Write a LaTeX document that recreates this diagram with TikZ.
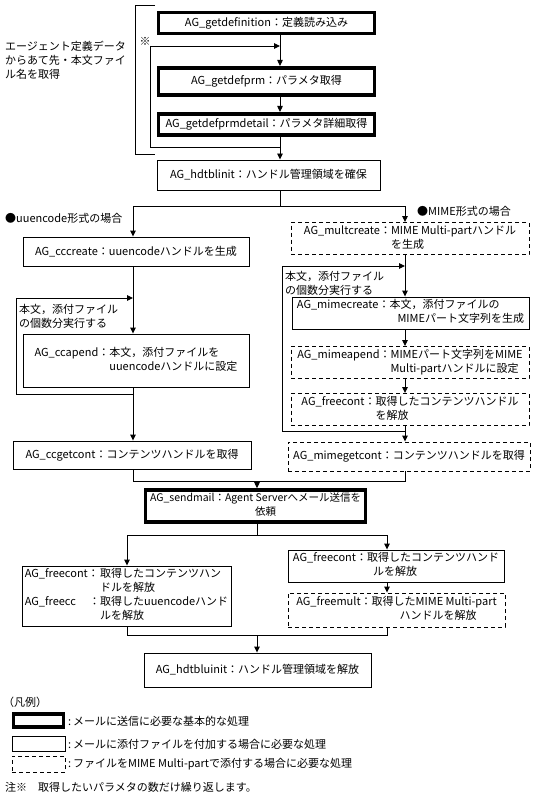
\documentclass[tikz,border=0pt]{standalone}
\usepackage{fontspec}
\setmainfont{Noto Sans CJK JP}
\usetikzlibrary{arrows.meta}
\newcommand\myfs{\fontsize{11}{14}\selectfont}
\newcommand\mysmfs{\fontsize{10.5}{14}\selectfont}
\begin{document}
\begin{tikzpicture}[x=1pt,y=-1pt,
  box/.style={draw, line width=0.9pt, inner sep=2pt, font=\myfs},
  thickbox/.style={box, line width=3.6pt},
  dashbox/.style={box, dash pattern=on 4pt off 3pt},
  arr/.style={-{Triangle[length=6pt,width=5.5pt]}, line width=0.9pt},
  ln/.style={line width=0.9pt},
  lbl/.style={anchor=west, inner sep=0pt, font=\myfs, align=left}]
\useasboundingbox (0,0) rectangle (548,805);

% ---- top section
\node[thickbox, minimum width=216pt, minimum height=21pt] (getdef) at (266.5,23) {AG\_getdefinition：定義読み込み};
\node[thickbox, minimum width=216pt, minimum height=27.5pt] (getprm) at (266.5,81.5) {AG\_getdefprm：パラメタ取得};
\node[thickbox, minimum width=216pt, minimum height=21.5pt] (getdet) at (266.5,124.5) {AG\_getdefprmdetail：パラメタ詳細取得};
\node[box, minimum width=223pt, minimum height=30pt] (hinit) at (268.5,175) {AG\_hdtblinit：ハンドル管理領域を確保};

\coordinate (t1) at (280,0);
\draw[arr] (getdef.south -| t1) -- (getprm.north -| t1);
\draw[arr] (getprm.south -| t1) -- (getdet.north -| t1);
\draw[arr] (getdet.south -| t1) -- (hinit.north -| t1);

\coordinate (la) at (150,46);
\coordinate (lb) at (150,147);
\draw[arr] (la) -- (la -| t1);
\draw[ln] (la) -- (lb) -- (lb -| t1);
\node[inner sep=0pt, font=\myfs] (kome) at (145,41) {※};

\draw[ln] (155,5) -- (135,5) -- (135,154) -- (155,154);
\node[lbl] (note1) at (5,60) {エージェント定義データ\\からあて先・本文ファイ\\ル名を取得};

% ---- first split
\coordinate (sp1) at (0,206);
\coordinate (xl) at (133,0);
\coordinate (xr) at (405,0);

\node[lbl] (uulbl) at (5,218) {●uuencode形式の場合};
\node[lbl] (mimelbl) at (417,211) {●MIME形式の場合};

% left column
\node[box, minimum width=226pt, minimum height=29pt] (cccreate) at (136,251.5) {AG\_cccreate：uuencodeハンドルを生成};
\node[box, minimum width=226pt, minimum height=53pt] (ccapend) at (136,360.5) {\begin{tabular}{@{}l@{}l@{}}AG\_ccapend：&本文，添付ファイルを\\&uuencodeハンドルに設定\end{tabular}};
\node[box, minimum width=238pt, minimum height=28pt] (ccget) at (132,455) {AG\_ccgetcont：コンテンツハンドルを取得};

% right column
\node[dashbox, minimum width=238pt, minimum height=29pt] (mult) at (410,238.5) {\begin{tabular}{@{}l@{}l@{}}AG\_multcreate：&MIME Multi-partハンドル\\&を生成\end{tabular}};
\node[box, minimum width=237pt, minimum height=30pt] (mcreate) at (410.5,313) {\begin{tabular}{@{}l@{}l@{}}AG\_mimecreate：&本文，添付ファイルの\\&\hspace{8pt}MIMEパート文字列を生成\end{tabular}};
\node[dashbox, minimum width=238pt, minimum height=29pt] (mapend) at (410,362.5) {\begin{tabular}{@{}l@{}l@{}}AG\_mimeapend：&MIMEパート文字列をMIME\\&Multi-partハンドルに設定\end{tabular}};
\node[dashbox, minimum width=238pt, minimum height=29pt] (mfree) at (410,409.5) {\begin{tabular}{@{}l@{}l@{}}AG\_freecont：&取得したコンテンツハンドル\\&を解放\end{tabular}};
\node[dashbox, minimum width=242pt, minimum height=29pt] (mget) at (409,456.5) {AG\_mimegetcont：コンテンツハンドルを取得};

\draw[ln] (hinit.south -| t1) -- (sp1 -| t1);
\draw[ln] (sp1 -| xl) -- (sp1 -| xr);
\draw[arr] (sp1 -| xl) -- (cccreate.north -| xl);
\draw[arr] (sp1 -| xr) -- (mult.north -| xr);

% left loop
\coordinate (lla) at (16,298);
\coordinate (llb) at (16,394);
\draw[arr] (lla) -- (lla -| xl);
\draw[ln] (lla) -- (llb) -- (llb -| xl);
\node[lbl] (lloop) at (19,316.5) {本文，添付ファイル\\の個数分実行する};
\draw[arr] (cccreate.south -| xl) -- (ccapend.north -| xl);
\draw[arr] (ccapend.south -| xl) -- (ccget.north -| xl);

% right loop
\coordinate (rla) at (282,266);
\coordinate (rlb) at (282,431);
\draw[arr] (rla) -- (rla -| xr);
\draw[ln] (rla) -- (rlb) -- (rlb -| xr);
\node[lbl] (rloop) at (285,283.5) {本文，添付ファイル\\の個数分実行する};
\draw[arr] (mult.south -| xr) -- (mcreate.north -| xr);
\draw[arr] (mcreate.south -| xr) -- (mapend.north -| xr);
\draw[arr] (mapend.south -| xr) -- (mfree.north -| xr);
\draw[arr] (mfree.south -| xr) -- (mget.north -| xr);

% ---- merge and send
\coordinate (m1) at (0,481);
\coordinate (xc) at (257,0);
\node[thickbox, font=\mysmfs, minimum width=220pt, minimum height=28.5pt] (send) at (255.5,506) {\begin{tabular}{@{}l@{}l@{}}AG\_sendmail：&Agent Serverへメール送信を\\&\hspace{30pt}依頼\end{tabular}};
\draw[ln] (ccget.south -| xl) -- (m1 -| xl) -- (m1 -| xr) -- (mget.south -| xr);
\draw[arr] (m1 -| xc) -- (send.north -| xc);

% ---- second split
\coordinate (s2) at (0,535);
\coordinate (xl2) at (127,0);
\coordinate (xr2) at (387,0);
\node[box, minimum width=209pt, minimum height=60pt] (freeL) at (126.5,596) {\begin{tabular}{@{}l@{}l@{}}AG\_freecont：&取得したコンテンツハン\\&ドルを解放\\AG\_freecc\hspace{1.2em}：&取得したuuencodeハンド\\&ルを解放\end{tabular}};
\node[box, minimum width=216pt, minimum height=28pt] (freeR) at (396,566) {\begin{tabular}{@{}l@{}l@{}}AG\_freecont：&取得したコンテンツハンド\\&\hspace{6pt}ルを解放\end{tabular}};
\node[dashbox, minimum width=217pt, minimum height=34pt] (fmult) at (396.5,610) {\begin{tabular}{@{}l@{}l@{}}AG\_freemult：&取得したMIME Multi-part\\&\hspace{28pt}ハンドルを解放\end{tabular}};
\node[box, minimum width=227pt, minimum height=34pt] (huninit) at (257.5,670) {AG\_hdtbluinit：ハンドル管理領域を解放};

\draw[ln] (send.south -| xc) -- (s2 -| xc);
\draw[ln] (s2 -| xl2) -- (s2 -| xr2);
\draw[arr] (s2 -| xl2) -- (freeL.north -| xl2);
\draw[arr] (s2 -| xr2) -- (freeR.north -| xr2);
\draw[arr] (freeR.south -| xr2) -- (fmult.north -| xr2);

\coordinate (m2) at (0,635);
\draw[ln] (freeL.south -| xl2) -- (m2 -| xl2) -- (m2 -| xr2) -- (fmult.south -| xr2);
\draw[arr] (m2 -| xc) -- (huninit.north -| xc);

% ---- legend
\node[lbl] (hanrei) at (3,702) {（凡例）};
\node[thickbox, minimum width=50pt, minimum height=13.5pt] (lg1) at (38.5,720.5) {};
\node[box, minimum width=53pt, minimum height=15pt] (lg2) at (38.5,743.5) {};
\node[dashbox, minimum width=53pt, minimum height=16pt] (lg3) at (38.5,764) {};
\node[lbl] (lt1) at (68,721) {:\,メールに送信に必要な基本的な処理};
\node[lbl] (lt2) at (68,744) {:\,メールに添付ファイルを付加する場合に必要な処理};
\node[lbl] (lt3) at (68,764) {:\,ファイルをMIME Multi-partで添付する場合に必要な処理};
\node[lbl] (chu) at (5,787) {注※　取得したいパラメタの数だけ繰り返します。};
\end{tikzpicture}
\end{document}
